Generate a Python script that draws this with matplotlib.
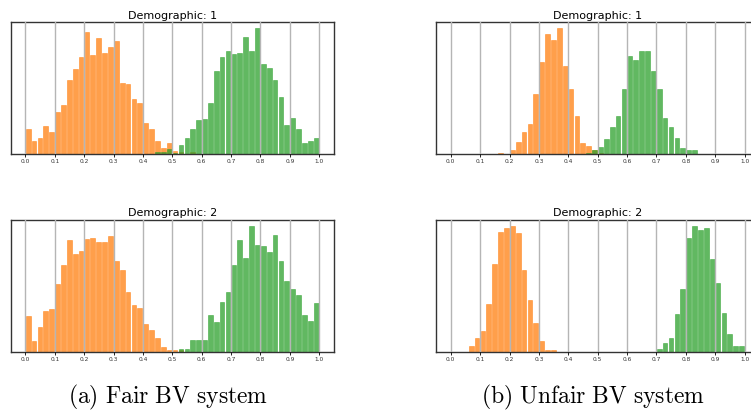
import numpy as np
import matplotlib
matplotlib.use("Agg")
import matplotlib.pyplot as plt

plt.rcParams["mathtext.fontset"] = "cm"

# bin edges of the score histograms (50 bins of 0.02)
bin_edges = np.linspace(0, 1, 51)
tick_vals = np.round(np.arange(0, 1.01, 0.1), 1)

# (a) fair system, demographic 1
fair_d1_orange = [75, 39, 49, 84, 66, 126, 147, 224, 257, 291,
                  366, 297, 348, 303, 321, 339, 213, 209, 165, 152,
                  93, 75, 39, 18, 33, 8, 7, 0, 7, 0,
                  0, 0, 0, 0, 0, 0, 0, 0, 0, 0,
                  0, 0, 0, 0, 0, 0, 0, 0, 0, 0]
fair_d1_green = [0, 0, 0, 0, 0, 0, 0, 0, 0, 0,
                 0, 0, 0, 0, 0, 0, 0, 0, 0, 0,
                 0, 0, 5, 5, 15, 3, 27, 48, 76, 102,
                 105, 153, 249, 291, 309, 300, 303, 351, 309, 378,
                 270, 258, 222, 171, 87, 108, 75, 33, 39, 48]

# (a) fair system, demographic 2
fair_d2_orange = [107, 32, 74, 122, 128, 203, 260, 335, 293, 302,
                  338, 341, 329, 329, 347, 272, 245, 179, 140, 131,
                  83, 65, 42, 15, 5, 5, 5, 0, 0, 0,
                  0, 0, 0, 0, 0, 0, 0, 0, 0, 0,
                  0, 0, 0, 0, 0, 0, 0, 0, 0, 0]
fair_d2_green = [0, 0, 0, 0, 0, 0, 0, 0, 0, 0,
                 0, 0, 0, 0, 0, 0, 0, 0, 0, 0,
                 0, 0, 0, 0, 0, 0, 8, 8, 35, 35,
                 35, 110, 89, 149, 179, 260, 335, 281, 377, 320,
                 317, 299, 350, 272, 212, 188, 170, 110, 92, 146]

# (b) unfair system, demographic 1
unfair_d1_orange = [0, 0, 0, 0, 0, 0, 0, 0, 3, 0,
                    11, 36, 66, 90, 180, 276, 360, 342, 378, 264,
                    194, 114, 33, 24, 12, 3, 0, 0, 0, 0,
                    0, 0, 0, 0, 0, 0, 0, 0, 0, 0,
                    0, 0, 0, 0, 0, 0, 0, 0, 0, 0]
unfair_d1_green = [0, 0, 0, 0, 0, 0, 0, 0, 0, 0,
                   0, 0, 0, 0, 0, 0, 0, 0, 0, 0,
                   0, 0, 0, 3, 11, 21, 46, 81, 114, 194,
                   294, 282, 309, 309, 249, 194, 108, 81, 48, 18,
                   12, 12, 0, 0, 0, 0, 0, 0, 0, 0]

# (b) unfair system, demographic 2
unfair_d2_orange = [0, 0, 0, 17, 42, 62, 143, 263, 359, 371,
                    377, 356, 245, 155, 86, 32, 5, 5, 0, 0,
                    0, 0, 0, 0, 0, 0, 0, 0, 0, 0,
                    0, 0, 0, 0, 0, 0, 0, 0, 0, 0,
                    0, 0, 0, 0, 0, 0, 0, 0, 0, 0]
unfair_d2_green = [0, 0, 0, 0, 0, 0, 0, 0, 0, 0,
                   0, 0, 0, 0, 0, 0, 0, 0, 0, 0,
                   0, 0, 0, 0, 0, 0, 0, 0, 0, 0,
                   0, 0, 0, 0, 0, 8, 26, 42, 113, 188,
                   341, 377, 365, 371, 278, 206, 116, 53, 17, 17]

captions = ["(a) Fair BV system", "(b) Unfair BV system"]


def hist_panel(ax, orange, green, title):
    left = bin_edges[:-1] + 0.0015
    w = 0.016
    ax.bar(left, orange, width=w, align="edge", color="C1", edgecolor="C1",
           linewidth=0.45, alpha=0.75)
    ax.bar(left, green, width=w, align="edge", color="C2", edgecolor="C2",
           linewidth=0.45, alpha=0.75)
    ax.set_xlim(-0.05, 1.05)
    ax.set_xticks(tick_vals)
    ax.set_xticklabels([f"{t:.1f}" for t in tick_vals], fontsize=4.2, color="#333333")
    ax.tick_params(axis="x", length=2, width=0.6, pad=1.5)
    ax.set_yticks([])
    ax.grid(axis="x", color="#b5b5b5", linewidth=1.0)
    ax.set_axisbelow(False)
    for s in ax.spines.values():
        s.set_color("#333333")
        s.set_linewidth(1.0)
    ax.set_title(title, fontsize=8, pad=2.5)


fig = plt.figure(figsize=(7.51, 4.16), dpi=100)
w_ax, h_ax = 0.4305, 0.3173
ax_a1 = fig.add_axes([0.0142, 0.6298, w_ax, h_ax])
ax_a2 = fig.add_axes([0.0142, 0.1546, w_ax, h_ax])
ax_b1 = fig.add_axes([0.5806, 0.6298, w_ax, h_ax])
ax_b2 = fig.add_axes([0.5806, 0.1546, w_ax, h_ax])

hist_panel(ax_a1, fair_d1_orange, fair_d1_green, "Demographic: 1")
hist_panel(ax_a2, fair_d2_orange, fair_d2_green, "Demographic: 2")
hist_panel(ax_b1, unfair_d1_orange, unfair_d1_green, "Demographic: 1")
hist_panel(ax_b2, unfair_d2_orange, unfair_d2_green, "Demographic: 2")

fig.text(0.2236, 0.03, r"$\mathrm{" + captions[0].replace(" ", r"\ ") + "}$",
         ha="center", va="baseline", fontsize=17)
fig.text(0.7894, 0.03, r"$\mathrm{" + captions[1].replace(" ", r"\ ") + "}$",
         ha="center", va="baseline", fontsize=17)

fig.savefig("out.png", dpi=100)
